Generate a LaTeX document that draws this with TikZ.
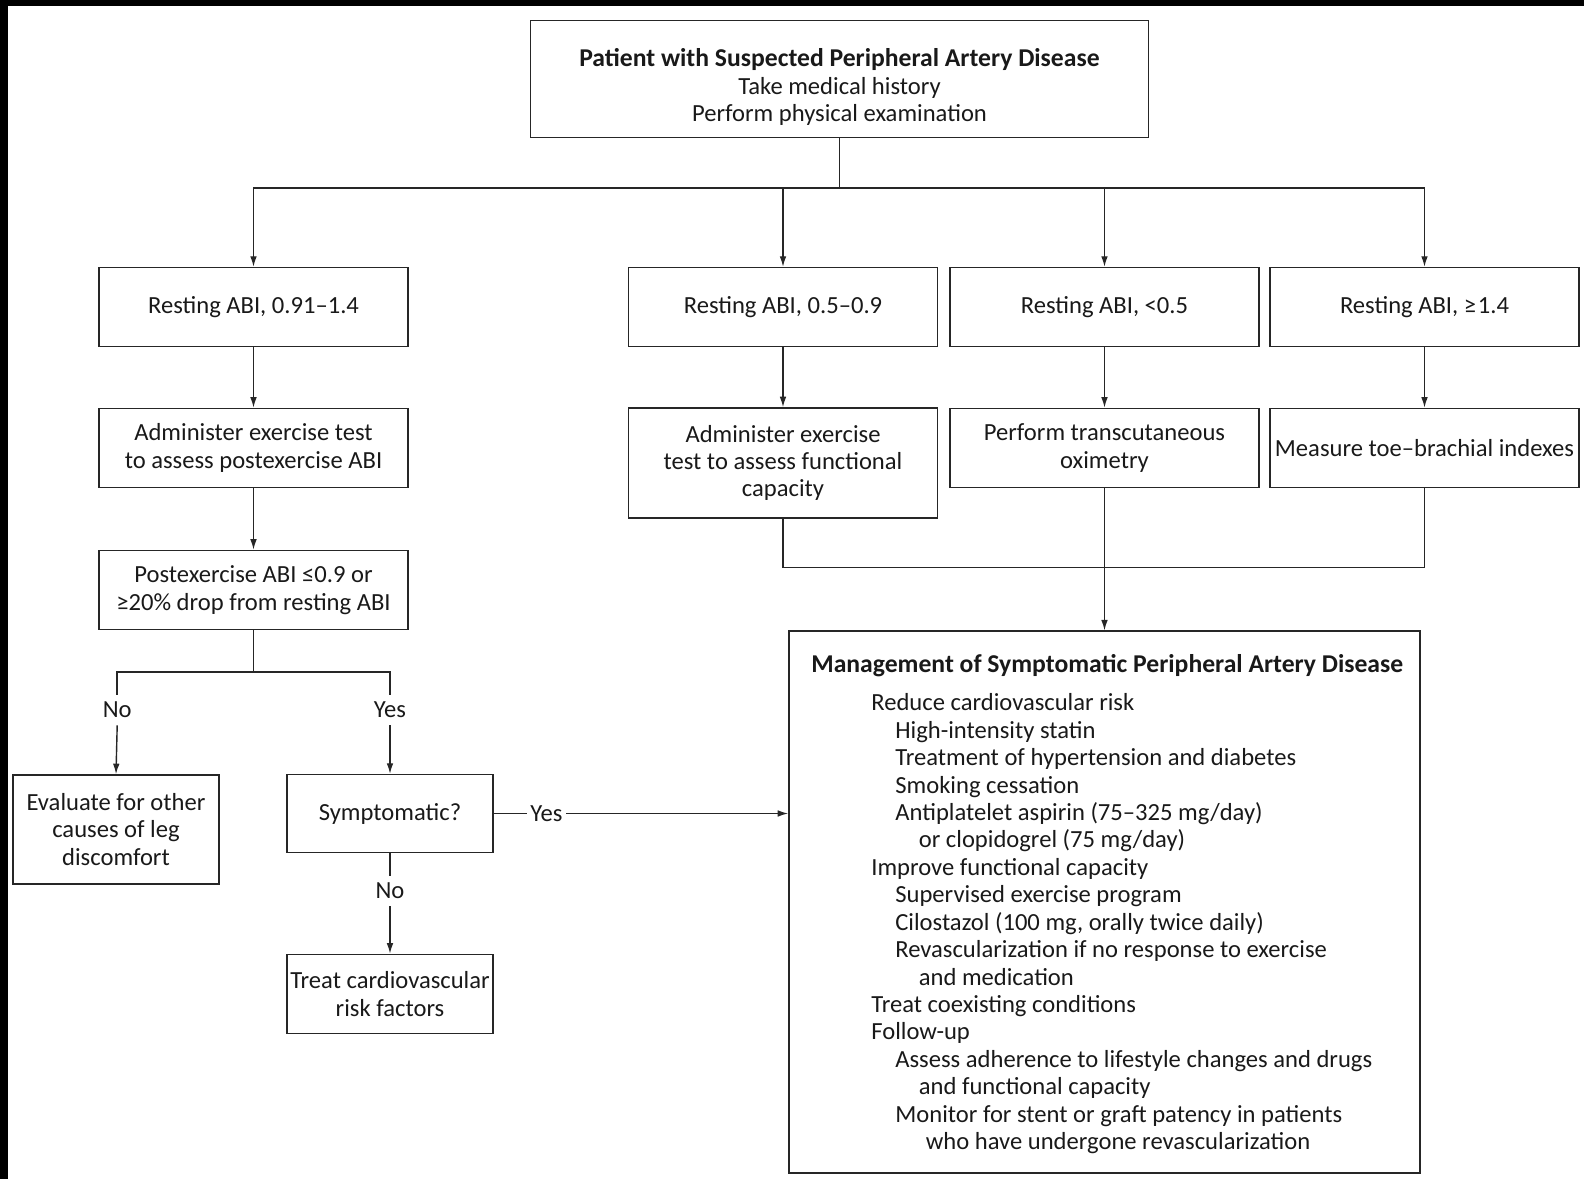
\documentclass[tikz,border=0pt]{standalone}
\usepackage{fontspec}
\setmainfont{Carlito}
\usetikzlibrary{arrows.meta}
\tikzset{
	box/.style={shape=rectangle, draw=black!85, line width=0.9pt, text=black!90, align=center, inner xsep=1pt, minimum width=6.18cm, minimum height=1.58cm},
	smallbox/.style={box, minimum width=4.12cm},
	lbl/.style={text=black!90, inner sep=2pt},
	wire/.style={draw=black!85, line width=0.8pt},
	tip/.style={-{Latex[length=6pt, width=3.8pt]}},
}
\newcommand{\headfont}{\fontsize{14.6}{15.6}\selectfont\bfseries}

\begin{document}
\begin{tikzpicture}[font=\fontsize{14}{15.6}\selectfont]
	% Frame and page size:
	\useasboundingbox (0, 0) rectangle (31.68, -23.58);
	\fill[black] (0, 0) rectangle (31.68, -0.12);
	\fill[black] (0, 0) rectangle (0.16, -23.58);
	% Boxes:
	\node[box, minimum width=12.36cm, minimum height=2.34cm] (patient) at (16.79, -1.576){\rule{0pt}{20pt}{\headfont Patient with Suspected Peripheral Artery Disease}\\Take medical history\\Perform physical examination};
	\node[box] (abinorm) at (5.07, -6.142){Resting ABI, 0.91--1.4};
	\node[box] (abimid) at (15.66, -6.142){Resting ABI, 0.5--0.9};
	\node[box] (abilow) at (22.09, -6.142){Resting ABI, <0.5};
	\node[box] (abihigh) at (28.49, -6.142){Resting ABI, ≥\kern1pt 1.4};
	\node[box] (postex) at (5.07, -8.96){Administer exercise test\\to assess postexercise ABI};
	\node[box, minimum height=2.2cm] (exfunc) at (15.66, -9.26){Administer exercise\\test to assess functional\\capacity};
	\node[box] (oxim) at (22.09, -8.96){Perform transcutaneous\\oximetry};
	\node[box] (toe) at (28.49, -8.96){Measure toe--brachial indexes};
	\node[box] (drop) at (5.07, -11.8){Postexercise ABI ≤0.9 or\\≥20\% drop from resting ABI};
	\node[smallbox, minimum height=2.18cm] (other) at (2.32, -16.59){Evaluate for other\\causes of leg\\discomfort};
	\node[smallbox, minimum height=1.556cm] (symp) at (7.80, -16.27){Symptomatic?};
	\node[smallbox] (riskf) at (7.80, -19.88){Treat cardiovascular\\risk factors};
	\node[box, minimum width=12.62cm, minimum height=10.83cm] (mgmt) at (22.09, -18.04){};
	% Text of the management box:
	\node[anchor=west, inner sep=0pt, text=black!90] (mgmttitle) at (16.22, -13.31){\headfont Management of Symptomatic Peripheral Artery Disease};
	\node[anchor=west, inner sep=0pt, align=left, text=black!90] (mgmtlist) at (17.42, -18.475){Reduce cardiovascular risk\\
		\hspace*{0.48cm}High-intensity statin\\
		\hspace*{0.48cm}Treatment of hypertension and diabetes\\
		\hspace*{0.48cm}Smoking cessation\\
		\hspace*{0.48cm}Antiplatelet aspirin (75--325 mg/day)\\
		\hspace*{0.95cm}or clopidogrel (75 mg/day)\\
		Improve functional capacity\\
		\hspace*{0.48cm}Supervised exercise program\\
		\hspace*{0.48cm}Cilostazol (100 mg, orally twice daily)\\
		\hspace*{0.48cm}Revascularization if no response to exercise\\
		\hspace*{0.95cm}and medication\\
		Treat coexisting conditions\\
		Follow-up\\
		\hspace*{0.48cm}Assess adherence to lifestyle changes and drugs\\
		\hspace*{0.95cm}and functional capacity\\
		\hspace*{0.48cm}Monitor for stent or graft patency in patients\\
		\hspace*{1.09cm}who have undergone revascularization};
	% Labels on the wires:
	\node[lbl, inner ysep=4pt] (lno) at (2.344, -14.2){No};
	\node[lbl, inner ysep=4pt] (lyes) at (7.80, -14.2){Yes};
	\node[lbl, inner ysep=4pt] (lno2) at (7.80, -17.82){No};
	\node[lbl] (lyes2) at (10.93, -16.27){Yes};
	% Wires:
	\coordinate (split) at (16.79, -3.758);
	\coordinate (branch) at (5.07, -13.44);
	\coordinate (merge) at (22.09, -11.35);
	\draw[wire] (patient.south) -- (split);
	\draw[wire, tip] (split) -| (abinorm.north);
	\draw[wire, tip] (split) -| (abimid.north);
	\draw[wire, tip] (split) -| (abilow.north);
	\draw[wire, tip] (split) -| (abihigh.north);
	\draw[wire, tip] (abinorm) -- (postex);
	\draw[wire, tip] (abimid.south) -- (exfunc.north);
	\draw[wire, tip] (abilow) -- (oxim);
	\draw[wire, tip] (abihigh) -- (toe);
	\draw[wire, tip] (postex) -- (drop);
	\draw[wire] (drop.south) -- (branch);
	\draw[wire] (lno.north) |- (branch) -| (lyes.north);
	\draw[wire, tip] (lno.south) -- (other.north);
	\draw[wire, tip] (lyes.south) -- (symp.north);
	\draw[wire] (symp.south) -- (lno2.north);
	\draw[wire, tip] (lno2.south) -- (riskf.north);
	\draw[wire] (symp.east) -- (lyes2.west);
	\draw[wire, tip] (lyes2.east) -- (symp.east -| mgmt.west);
	\draw[wire] (exfunc.south) |- (merge) -| (toe.south);
	\draw[wire, tip] (oxim.south) -- (mgmt.north);
\end{tikzpicture}
\end{document}
